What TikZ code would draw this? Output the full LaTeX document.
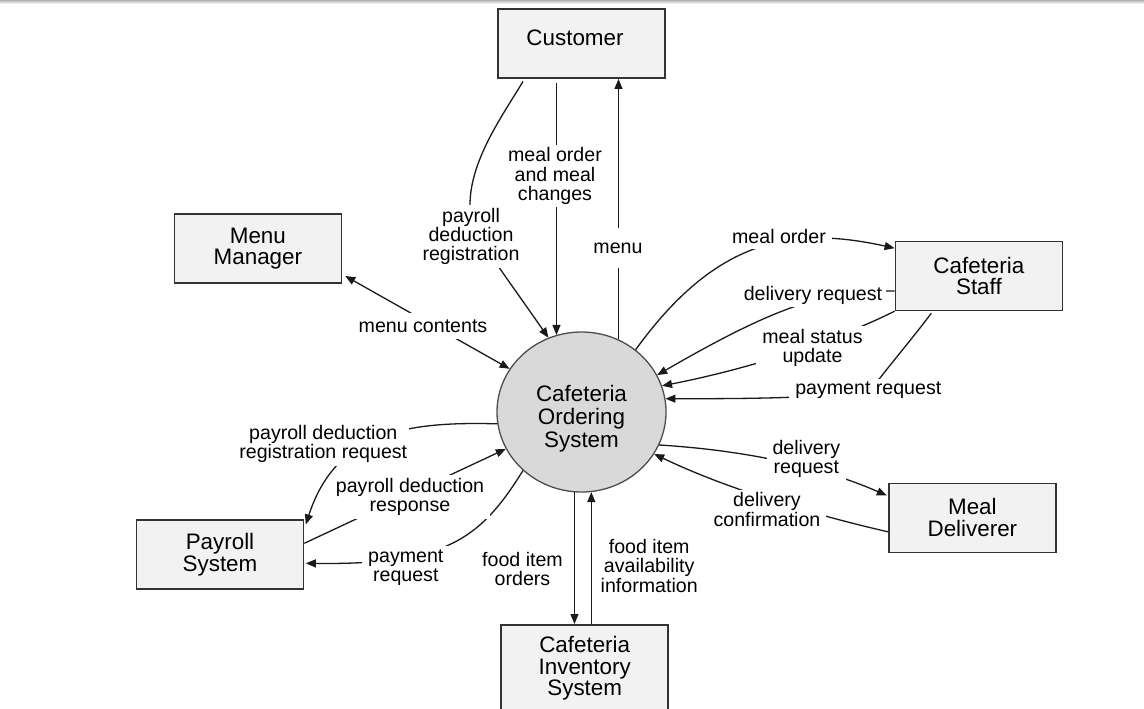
\documentclass[tikz,border=0pt]{standalone}
\usepackage{fontspec}
\setmainfont{Liberation Sans}
\usetikzlibrary{arrows.meta,shapes.geometric,calc}
\definecolor{boxfill}{HTML}{F2F2F2}
\definecolor{boxline}{HTML}{333333}
\definecolor{circfill}{HTML}{D9D9D9}
\definecolor{circline}{HTML}{4D4D4D}
\definecolor{flowcol}{HTML}{1A1A1A}
\begin{document}
\begin{tikzpicture}[x=1pt,y=-1pt,
  entbox/.style={draw=boxline, line width=1.6pt, fill=boxfill, minimum width=167pt, minimum height=69pt, inner sep=0pt, align=center, font=\fontsize{22.4}{21.7}\selectfont},
  flowlbl/.style={fill=white, inner xsep=6pt, inner ysep=3pt, align=center, font=\fontsize{19.6}{19.3}\selectfont},
  flow/.style={draw=flowcol, line width=1.3pt, -{Triangle[length=10pt,width=8pt]}},
  flowboth/.style={draw=flowcol, line width=1.3pt, {Triangle[length=10pt,width=8pt]}-{Triangle[length=10pt,width=8pt]}},
]
\clip (0,0) rectangle (1144,709);
\fill[white] (0,0) rectangle (1144,709);
\shade[top color=black!30, bottom color=white] (0,0) rectangle (1144,4);

% entities
\node[entbox] (cust) at (581.5,43.7) {\raisebox{6pt}[\height][\depth]{\kern-6.5pt Customer\kern6.5pt}};
\node[entbox] (menu) at (257.9,248.7) {Menu\\Manager};
\node[entbox] (staff) at (978.9,275.9) {Cafeteria\\Staff};
\node[entbox] (deliv) at (972.4,517.8) {Meal\\Deliverer};
\node[entbox] (payroll) at (220,554.7) {Payroll\\System};
\node[entbox, minimum height=87pt, anchor=north] (inv) at (584.7,624) {Cafeteria\\Inventory\\System};

% process
\node[ellipse, draw=circline, line width=1.3pt, fill=circfill, minimum width=169pt, minimum height=160pt, inner sep=0pt] (sys) at (581.5,412) {};
\node[font=\fontsize{22.4}{23}\selectfont, align=center] (systext) at (581.5,419) {Cafeteria\\Ordering\\System};

% flows
\draw[flow, shorten <=4pt] (sys.108 |- cust.south) -- (sys.108);
\draw[flow] (sys.63) -- (sys.63 |- cust.south);
\draw[flow] ($(cust.south west)+(25.8,2.4)$) .. controls (503,115) and (470,160) .. (470,205) .. controls (470,230) and (485,247) .. (sys.114);
\draw[flowboth] ($(menu.south east)+(3,-8)$) -- (sys.149);
\draw[flow] (sys.49) .. controls (715,240) and (790,225) .. ($(staff.north west)+(0,7.6)$);
\draw[flow] ($(staff.north west)+(0,50.3)$) .. controls (830,292) and (790,298) .. (sys.26);
\draw[flow] (staff.south west) .. controls (845,336) and (763,366) .. (sys.18);
\draw[flow] ($(staff.south west)+(36.7,2)$) .. controls (915,335) and (898,355) .. (880,378) .. controls (868,393) and (845,399) .. (sys.9.5);
\draw[flow] (sys.-23.4) .. controls (740,450) and (817,465) .. ($(deliv.north west)+(-1.3,13)$);
\draw[flow] ($(deliv.west)+(0,14)$) .. controls (840,521) and (737,494) .. (sys.-30.3);
\draw[flow] (sys.-95) -- (sys.-95 |- inv.north);
\draw[flow] (sys.-83 |- inv.north) -- (sys.-83);
\draw[flow] (sys.188.7) .. controls (400,421) and (335,435) .. ($(payroll.north east)+(1.5,5)$);
\draw[flow] ($(payroll.east)+(0,-11.4)$) -- (sys.206.5);
\draw[flow] (sys.225.7) .. controls (480,540) and (445,565) .. ($(payroll.east)+(1.5,8.6)$);

% flow labels
\node[flowlbl] (l1) at (555,176) {meal order\\and meal\\changes};
\node[flowlbl, inner ysep=15pt] (l2) at (618,248) {menu};
\node[flowlbl] (l3) at (471,236.6) {payroll\\deduction\\registration};
\node[flowlbl, inner ysep=7pt] (l4) at (423,326) {menu contents};
\node[flowlbl, inner ysep=6pt] (l5) at (779,236) {meal order};
\node[flowlbl, inner xsep=4pt] (l6) at (813,295) {delivery request};
\node[flowlbl] (l7) at (812.5,348) {meal status\\update};
\node[flowlbl] (l8) at (868.3,390.5) {payment request};
\node[flowlbl] (l9) at (806.3,459) {delivery\\request};
\node[flowlbl] (l10) at (767,509.6) {delivery\\confirmation};
\node[flowlbl, inner xsep=1.5pt] (l11) at (522.5,568.7) {food item\\orders};
\node[flowlbl, inner xsep=1.5pt] (l12) at (649.2,565.7) {food item\\availability\\information};
\node[flowlbl, inner xsep=1.5pt] (l13) at (323.3,444) {payroll deduction\\registration request};
\node[flowlbl] (l14) at (410,497) {payroll deduction\\response};
\node[flowlbl] (l15) at (405.8,567.5) {payment\\request};
\end{tikzpicture}
\end{document}
